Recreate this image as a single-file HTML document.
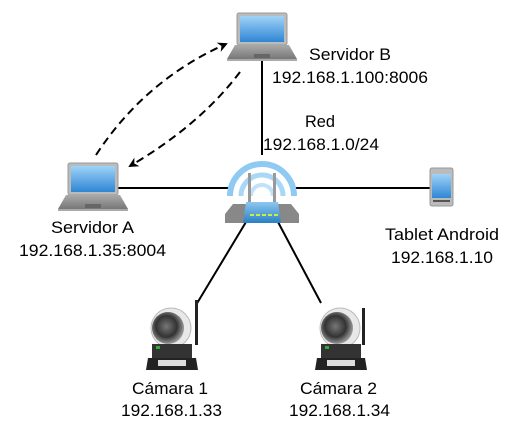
<!DOCTYPE html>
<html><head><meta charset="utf-8"><style>
html,body{margin:0;padding:0;background:#fff;}
svg{display:block;}
text{font-family:"Liberation Sans",Arial,sans-serif;font-size:17px;fill:#000;}
</style></head><body>
<svg width="518" height="439" viewBox="0 0 518 439" xmlns="http://www.w3.org/2000/svg">
<defs>
<linearGradient id="scr" x1="0" y1="0" x2="0" y2="1"><stop offset="0" stop-color="#9fd3f7"/><stop offset="1" stop-color="#2f86d4"/></linearGradient>
<linearGradient id="base" x1="0" y1="0" x2="0" y2="1"><stop offset="0" stop-color="#aaa"/><stop offset="1" stop-color="#777"/></linearGradient>
<linearGradient id="rt" x1="0" y1="0" x2="0" y2="1"><stop offset="0" stop-color="#8cc8f0"/><stop offset="1" stop-color="#2b7fc4"/></linearGradient>
<radialGradient id="dome" cx="0.45" cy="0.45" r="0.55"><stop offset="0" stop-color="#777"/><stop offset="0.6" stop-color="#333"/><stop offset="1" stop-color="#999"/></radialGradient>
<marker id="ar" markerWidth="10" markerHeight="10" refX="8" refY="5" orient="auto" markerUnits="userSpaceOnUse"><path d="M0,0 L10,5 L0,10 L3,5 Z" fill="#000"/></marker>
<g id="laptop">
<rect x="0" y="0" width="50" height="32" rx="2" fill="#bbb" stroke="#999"/>
<rect x="3" y="3" width="44" height="26" fill="url(#scr)"/>
<path d="M-2,32 L52,32 L60,46 L-10,46 Z" fill="url(#base)"/>
<rect x="-10" y="46" width="70" height="2" fill="#aaa"/>
<rect x="17" y="41" width="16" height="4" fill="#666"/>
</g>
<g id="cam">
<circle cx="21" cy="18" r="20" fill="#e8e8e8" stroke="#bbb"/>
<circle cx="18" cy="18" r="16" fill="url(#dome)"/>
<rect x="2" y="34" width="40" height="14" fill="#333"/>
<rect x="6" y="36" width="4" height="3" fill="#3a3"/>
<path d="M-2,48 L46,48 L48,60 L-4,60 Z" fill="#222"/>
<rect x="8" y="50" width="28" height="6" fill="#ddd"/>
</g>
</defs>

<line x1="262" y1="60" x2="262" y2="155" stroke="#000" stroke-width="2"/>
<line x1="117" y1="188" x2="232" y2="188" stroke="#000" stroke-width="2"/>
<line x1="293" y1="188" x2="431" y2="188" stroke="#000" stroke-width="2"/>
<line x1="246" y1="222" x2="196" y2="305" stroke="#000" stroke-width="2"/>
<line x1="278" y1="222" x2="321" y2="303" stroke="#000" stroke-width="2"/>
<path d="M96,155 Q145,80 226,44" fill="none" stroke="#000" stroke-width="2" stroke-dasharray="8,5" marker-end="url(#ar)"/>
<path d="M240,72 Q200,125 130,166" fill="none" stroke="#000" stroke-width="2" stroke-dasharray="8,5" marker-end="url(#ar)"/>

<use href="#laptop" x="237" y="13"/>
<use href="#laptop" x="68" y="163"/>

<g>
<path d="M230,196 A32,32 0 0 1 294,196" fill="none" stroke="#8fcaf3" stroke-width="6"/>
<path d="M241,196 A21,21 0 0 1 283,196" fill="none" stroke="#a9d8f7" stroke-width="5"/>
<path d="M251,196 A11,11 0 0 1 273,196" fill="none" stroke="#c0e2fa" stroke-width="4"/>
<rect x="248" y="173" width="3" height="32" fill="#999"/>
<rect x="273" y="173" width="3" height="32" fill="#999"/>
<path d="M233,204 L291,204 L299,214 L299,223 L225,223 L225,214 Z" fill="#888"/>
<path d="M246,202 L278,202 L281,223 L243,223 Z" fill="url(#rt)"/>
<g fill="#c8f040"><rect x="250" y="214" width="4" height="2"/><rect x="256" y="214" width="4" height="2"/><rect x="262" y="214" width="4" height="2"/><rect x="268" y="214" width="4" height="2"/><rect x="274" y="214" width="4" height="2"/></g>
</g>

<rect x="430" y="168" width="23" height="38" rx="2" fill="#bbb" stroke="#999"/>
<rect x="432" y="174" width="19" height="24" fill="url(#scr)"/>
<rect x="433" y="200" width="17" height="2" fill="#555"/>

<rect x="195" y="300" width="3" height="45" fill="#222"/>
<use href="#cam" x="150" y="310"/>
<rect x="362" y="308" width="3" height="37" fill="#222"/>
<use href="#cam" x="319" y="310"/>

<text x="309" y="60" textLength="82" lengthAdjust="spacingAndGlyphs">Servidor B</text>
<text x="272" y="83" textLength="156" lengthAdjust="spacingAndGlyphs">192.168.1.100:8006</text>
<text x="305" y="127" textLength="30" lengthAdjust="spacingAndGlyphs">Red</text>
<text x="263" y="150" textLength="116" lengthAdjust="spacingAndGlyphs">192.168.1.0/24</text>
<text x="51" y="233" textLength="83" lengthAdjust="spacingAndGlyphs">Servidor A</text>
<text x="19" y="256" textLength="147" lengthAdjust="spacingAndGlyphs">192.168.1.35:8004</text>
<text x="385" y="240" textLength="114" lengthAdjust="spacingAndGlyphs">Tablet Android</text>
<text x="391" y="263" textLength="102" lengthAdjust="spacingAndGlyphs">192.168.1.10</text>
<text x="132" y="394" textLength="76" lengthAdjust="spacingAndGlyphs">Cámara 1</text>
<text x="121" y="416" textLength="101" lengthAdjust="spacingAndGlyphs">192.168.1.33</text>
<text x="300" y="394" textLength="77" lengthAdjust="spacingAndGlyphs">Cámara 2</text>
<text x="289" y="416" textLength="101" lengthAdjust="spacingAndGlyphs">192.168.1.34</text>
</svg>
</body></html>
